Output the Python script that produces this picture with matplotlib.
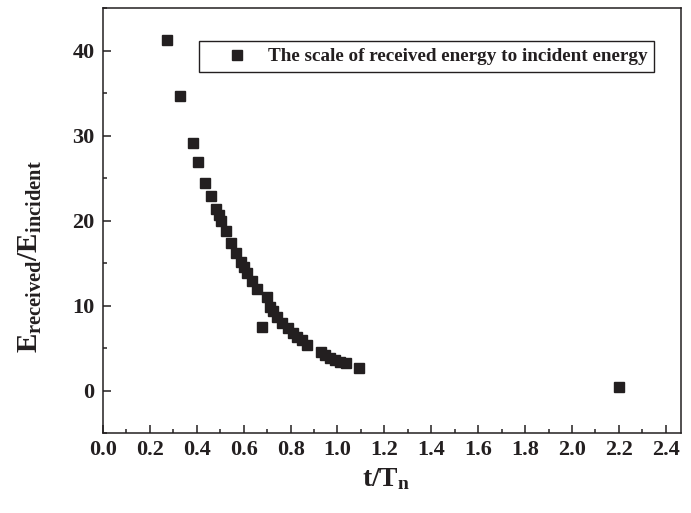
import matplotlib
matplotlib.use("Agg")
import matplotlib.pyplot as plt
from matplotlib.ticker import MultipleLocator

# ratio of received to incident energy vs normalised time
t_ratio = [0.274, 0.328, 0.382, 0.405, 0.436, 0.459, 0.482, 0.493, 0.503,
           0.525, 0.546, 0.567, 0.587, 0.601, 0.613, 0.634, 0.655, 0.677,
           0.700, 0.712, 0.724, 0.743, 0.764, 0.787, 0.809, 0.827, 0.847,
           0.871, 0.928, 0.948, 0.970, 0.990, 1.012, 1.036, 1.093, 2.200]
e_ratio = [41.2, 34.7, 29.1, 26.9, 24.4, 22.9, 21.4, 20.6, 20.0,
           18.75, 17.35, 16.2, 15.1, 14.5, 13.8, 12.9, 11.9, 7.45,
           11.0, 9.8, 9.3, 8.7, 8.0, 7.4, 6.8, 6.35, 5.9,
           5.4, 4.5, 4.15, 3.85, 3.6, 3.4, 3.2, 2.65, 0.47]
series_label = "The scale of received energy to incident energy"

plt.rcParams["font.family"] = ["Liberation Serif", "DejaVu Serif"]
plt.rcParams["font.weight"] = "bold"
plt.rcParams["mathtext.fontset"] = "custom"
plt.rcParams["mathtext.rm"] = "Liberation Serif:bold"
plt.rcParams["mathtext.it"] = "Liberation Serif:bold"
plt.rcParams["mathtext.bf"] = "Liberation Serif:bold"

ink = "#231f20"
W, H = 691, 513
fig = plt.figure(figsize=(W / 100, H / 100), dpi=100)
ax = fig.add_axes([103 / W, 1 - 433 / H, (681 - 103) / W, (433 - 8) / H])

ax.plot(t_ratio, e_ratio, linestyle="none", marker="s", markersize=6.8,
        color=ink, label=series_label)

ax.set_xlim(0, 2.465)
ax.set_ylim(-5, 45)
ax.xaxis.set_major_locator(MultipleLocator(0.2))
ax.xaxis.set_minor_locator(MultipleLocator(0.1))
ax.yaxis.set_major_locator(MultipleLocator(10))
ax.yaxis.set_minor_locator(MultipleLocator(5))
ax.xaxis.set_major_formatter(plt.FormatStrFormatter("%.1f"))

ax.tick_params(which="both", direction="in", top=False, right=False,
               width=1.1, colors=ink, labelsize=16)
ax.tick_params(which="major", length=6)
ax.tick_params(which="minor", length=3)
ax.tick_params(axis="x", pad=5)
ax.tick_params(axis="y", pad=6)
for s in ax.spines.values():
    s.set_linewidth(1.1)
    s.set_color(ink)

leg = ax.legend(loc="upper right", bbox_to_anchor=(0.953, 0.922),
                borderaxespad=0, fancybox=False, edgecolor=ink,
                fontsize=13.8, handlelength=3.2, handletextpad=0.0,
                borderpad=0.35, framealpha=1)
leg.get_frame().set_linewidth(1.0)
for txt in leg.get_texts():
    txt.set_color(ink)

fig.text(30 / W, 1 - 257 / H, r"$\mathrm{E_{received}/E_{incident}}$",
         rotation=90, ha="center", va="center", fontsize=21, color=ink)
fig.text(386 / W, 1 - 486 / H, r"$\mathrm{t/T_{n}}$",
         ha="center", va="baseline", fontsize=20, color=ink)

fig.savefig("out.png", dpi=100)
